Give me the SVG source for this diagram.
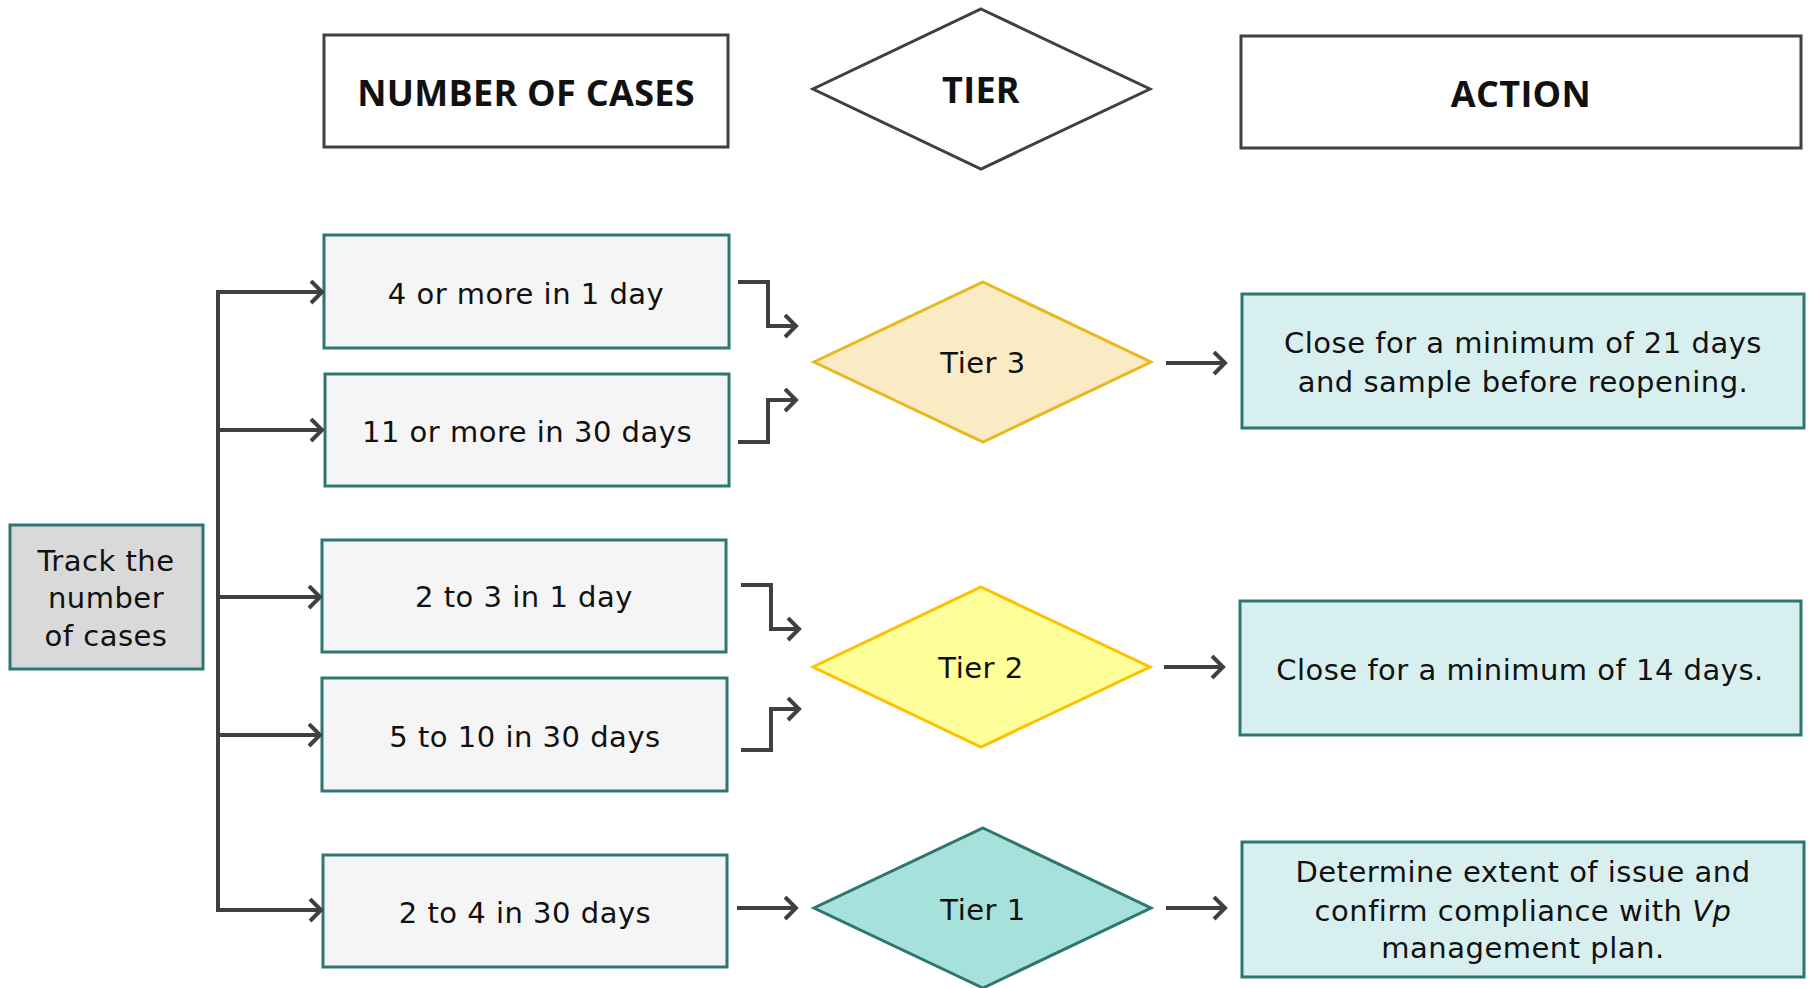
<svg xmlns="http://www.w3.org/2000/svg" width="1810" height="988" viewBox="0 0 1810 988">
<style>
text{fill:#111;text-anchor:middle}
.hdr{font-family:"Open Sans","Liberation Sans",sans-serif;font-size:36px;font-weight:bold;letter-spacing:0.3px}
.t{font-family:"DejaVu Sans","Liberation Sans",sans-serif;font-size:29px;letter-spacing:0.5px}
.hbox{fill:#fff;stroke:#404040;stroke-width:3}
.cbox{fill:#f5f5f5;stroke:#2e7670;stroke-width:3}
.abox{fill:#d7f0ef;stroke:#2e7670;stroke-width:3}
.trk{fill:#d9d9d9;stroke:#2e7670;stroke-width:3}
.con{fill:none;stroke:#404040;stroke-width:4;marker-end:url(#ah)}
</style>
<defs>
<marker id="ah" markerUnits="userSpaceOnUse" markerWidth="20" markerHeight="30" refX="13" refY="12" orient="auto">
<path d="M2,1 L13,12 L2,23" fill="none" stroke="#404040" stroke-width="4"/>
</marker>
</defs>
<g id="hdr-cases"><rect class="hbox" x="324" y="35" width="404" height="112"/><text class="hdr" x="526" y="106">NUMBER OF CASES</text></g>
<g id="hdr-tier"><polygon class="hbox" points="981,9 1150,89 981,169 813,89"/><text class="hdr" x="981" y="103">TIER</text></g>
<g id="hdr-action"><rect class="hbox" x="1241" y="36" width="560" height="112"/><text class="hdr" x="1521" y="107">ACTION</text></g>
<g id="track"><rect class="trk" x="10" y="525" width="193" height="144"/><text class="t" x="106" y="571">Track the</text><text class="t" x="106" y="608">number</text><text class="t" x="106" y="646">of cases</text></g>
<g id="c1"><rect class="cbox" x="324" y="235" width="405" height="113"/><text class="t" x="526" y="304">4 or more in 1 day</text></g>
<g id="c2"><rect class="cbox" x="325" y="374" width="404" height="112"/><text class="t" x="527" y="442">11 or more in 30 days</text></g>
<g id="c3"><rect class="cbox" x="322" y="540" width="404" height="112"/><text class="t" x="524" y="607">2 to 3 in 1 day</text></g>
<g id="c4"><rect class="cbox" x="322" y="678" width="405" height="113"/><text class="t" x="525" y="747">5 to 10 in 30 days</text></g>
<g id="c5"><rect class="cbox" x="323" y="855" width="404" height="112"/><text class="t" x="525" y="923">2 to 4 in 30 days</text></g>
<g id="tier3"><polygon points="983,282 1151,362 983,442 814,362" fill="#faebc4" stroke="#e9b820" stroke-width="3"/><text class="t" x="983" y="373">Tier 3</text></g>
<g id="tier2"><polygon points="981,587 1150,667 981,747 813,667" fill="#ffff99" stroke="#ffc000" stroke-width="3"/><text class="t" x="981" y="678">Tier 2</text></g>
<g id="tier1"><polygon points="983,828 1151,908 983,988 814,908" fill="#a6e1dc" stroke="#2e7670" stroke-width="3"/><text class="t" x="983" y="920">Tier 1</text></g>
<g id="a3"><rect class="abox" x="1242" y="294" width="562" height="134"/><text class="t" x="1523" y="353">Close for a minimum of 21 days</text><text class="t" x="1523" y="392">and sample before reopening.</text></g>
<g id="a2"><rect class="abox" x="1240" y="601" width="561" height="134"/><text class="t" x="1520" y="680">Close for a minimum of 14 days.</text></g>
<g id="a1"><rect class="abox" x="1242" y="842" width="562" height="135"/><text class="t" x="1523" y="882">Determine extent of issue and</text><text class="t" x="1523" y="921">confirm compliance with <tspan font-style="italic">Vp</tspan></text><text class="t" x="1523" y="958">management plan.</text></g>
<g id="connectors">
<path d="M218,292 V910" fill="none" stroke="#404040" stroke-width="4"/>
<path class="con" d="M216,292 H322"/>
<path class="con" d="M218,430 H322"/>
<path class="con" d="M218,597 H320"/>
<path class="con" d="M218,735 H320"/>
<path class="con" d="M216,910 H321"/>
<path class="con" d="M738,282 H768 V326 H796"/>
<path class="con" d="M738,442 H768 V400 H796"/>
<path class="con" d="M741,585 H771 V629 H799"/>
<path class="con" d="M741,750 H771 V709 H799"/>
<path class="con" d="M737,908 H796"/>
<path class="con" d="M1166,363 H1225"/>
<path class="con" d="M1164,667 H1223"/>
<path class="con" d="M1166,908 H1225"/>
</g>
</svg>
